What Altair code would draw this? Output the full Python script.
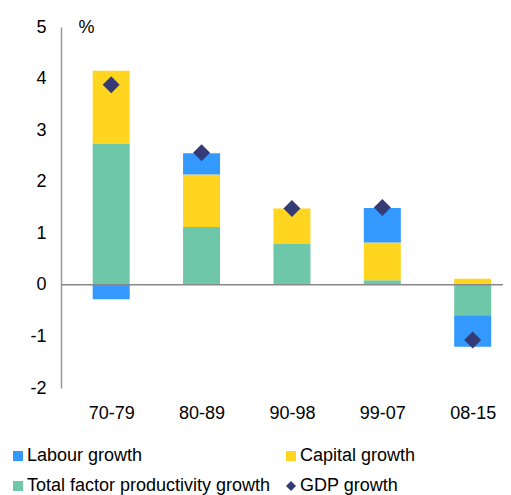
import json
import altair as alt
import pandas as pd

periods = ["70-79", "80-89", "90-98", "99-07", "08-15"]
labour = [-0.28, 0.41, 0.0, 0.67, -0.61]
capital = [1.41, 1.02, 0.69, 0.73, 0.12]
tfp = [2.74, 1.12, 0.79, 0.09, -0.59]
gdp = [3.88, 2.56, 1.48, 1.50, -1.07]

# legend order (column-major fill): Labour, TFP | Capital, GDP
series_names = ["Labour growth", "Total factor productivity growth",
                "Capital growth", "GDP growth"]
series_colors = ["#3399FF", "#6DC7A8", "#FFD520", "#353B74"]
series_shapes = ["square", "square", "square", "diamond"]
y_ticks = [-2, -1, 0, 1, 2, 3, 4, 5]

rows = []
for i, p in enumerate(periods):
    pos = i + 0.5
    rows.append({"pos": pos, "series": "Total factor productivity growth", "value": tfp[i], "ord": 0})
    rows.append({"pos": pos, "series": "Capital growth", "value": capital[i], "ord": 1})
    rows.append({"pos": pos, "series": "Labour growth", "value": labour[i], "ord": 2})
bars_df = pd.DataFrame(rows)
gdp_df = pd.DataFrame({"pos": [i + 0.5 for i in range(len(periods))],
                       "series": ["GDP growth"] * len(periods), "value": gdp})

label_expr = json.dumps(periods) + "[floor(datum.value)]"

FS = 18

x_enc = alt.X("pos:Q", scale=alt.Scale(domain=[0, 4.78], nice=False, zero=False),
              axis=alt.Axis(values=[i + 0.5 for i in range(len(periods))],
                            labelExpr=label_expr, domain=False, ticks=False,
                            grid=False, labelPadding=16, labelFontSize=FS,
                            labelColor="#000", title=None))
y_scale = alt.Scale(domain=[-2, 5], nice=False)
y_axis = alt.Axis(values=y_ticks, labelExpr="toString(datum.value)", grid=False,
                  ticks=False, domainColor="#999",
                  domainWidth=1.5, labelFontSize=FS, labelColor="#000",
                  labelPadding=15, title="%", titleAngle=0, titleX=17, titleY=0,
                  titleAlign="left", titleBaseline="middle", titleFontSize=FS,
                  titleFontWeight="normal", titleColor="#000")

legend = alt.Legend(orient="none", legendX=-52, legendY=420, columns=2,
                    columnPadding=11, rowPadding=12, symbolSize=100,
                    labelFontSize=FS, labelColor="#000", labelOffset=0,
                    labelLimit=400, title=None, symbolStrokeWidth=0, padding=0)
color_scale = alt.Scale(domain=series_names, range=series_colors)
shape_scale = alt.Scale(domain=series_names, range=series_shapes)

bars = alt.Chart(bars_df).mark_bar(size=37).encode(
    x=x_enc,
    y=alt.Y("value:Q", stack="zero", scale=y_scale, axis=y_axis),
    color=alt.Color("series:N", scale=color_scale, legend=legend),
    order=alt.Order("ord:Q"),
)

zero = alt.Chart(pd.DataFrame({"z": [0]})).mark_rule(color="#888", strokeWidth=1.5).encode(
    y=alt.Y("z:Q", scale=y_scale)
)

points = alt.Chart(gdp_df).mark_point(filled=True, opacity=1, size=290).encode(
    x=alt.X("pos:Q"),
    y=alt.Y("value:Q"),
    color=alt.Color("series:N", scale=color_scale, legend=legend),
    shape=alt.Shape("series:N", scale=shape_scale, legend=legend),
)

chart = alt.layer(bars, zero, points).properties(
    width=442, height=361,
    autosize=alt.AutoSizeParams(type="none"),
    padding={"left": 53, "top": 19, "right": 0, "bottom": 107},
).configure(font="Liberation Sans").configure_view(strokeWidth=0)

chart.save("out.html", embed_options={"renderer": "svg", "actions": False})
